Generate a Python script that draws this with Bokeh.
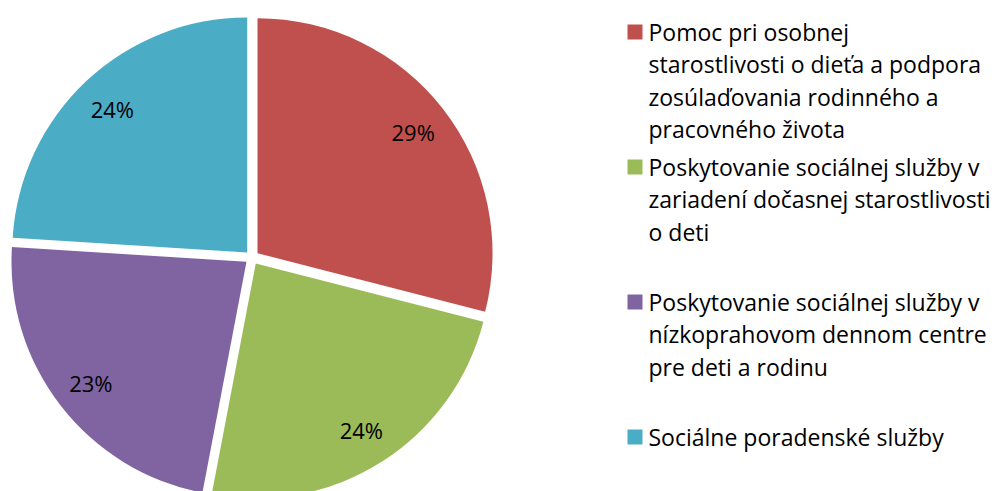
import math
from bokeh.plotting import figure
from bokeh.models import Range1d, ColumnDataSource
from bokeh.core.properties import value
from bokeh.embed import file_html
from bokeh.resources import INLINE

# ---- data ----
categories = [
    "Pomoc pri osobnej starostlivosti o dieťa a podpora zosúlaďovania rodinného a pracovného života",
    "Poskytovanie sociálnej služby v zariadení dočasnej starostlivosti o deti",
    "Poskytovanie sociálnej služby v nízkoprahovom dennom centre pre deti a rodinu",
    "Sociálne poradenské služby",
]
legend_lines = [
    ["Pomoc pri osobnej", "starostlivosti o dieťa a podpora", "zosúlaďovania rodinného a", "pracovného života"],
    ["Poskytovanie sociálnej služby v", "zariadení dočasnej starostlivosti", "o deti"],
    ["Poskytovanie sociálnej služby v", "nízkoprahovom dennom centre", "pre deti a rodinu"],
    ["Sociálne poradenské služby"],
]
shares = [29, 24, 23, 24]
colors = ["#C0504D", "#9BBB59", "#8064A2", "#4BACC6"]

# ---- layout (picture pixel coordinates) ----
W, H = 995, 491
def wy(y):
    return H - y

cx, cy = 251.5, wy(257)
R = 235
EXPLODE = 7
LABEL_R = 204
FONT = "Open Sans"

total = float(sum(shares))
starts, ends, xs, ys, lx, ly, txt = [], [], [], [], [], [], []
cum = 0.0
for v in shares:
    a0 = math.pi / 2 - 2 * math.pi * cum / total
    cum += v
    a1 = math.pi / 2 - 2 * math.pi * cum / total
    mid = (a0 + a1) / 2
    starts.append(a1)
    ends.append(a0)
    xs.append(cx + EXPLODE * math.cos(mid))
    ys.append(cy + EXPLODE * math.sin(mid))
    lx.append(cx + LABEL_R * math.cos(mid))
    ly.append(cy + LABEL_R * math.sin(mid))
    txt.append(f"{round(100 * v / total)}%")

p = figure(width=W, height=H, output_backend="svg", toolbar_location=None,
           x_range=Range1d(0, W), y_range=Range1d(0, H),
           min_border=0)
p.axis.visible = False
p.grid.visible = False
p.outline_line_color = None
p.background_fill_color = "white"

src = ColumnDataSource(dict(x=xs, y=ys, start=starts, end=ends, color=colors, cat=categories))
p.wedge(x="x", y="y", radius=R, start_angle="start", end_angle="end",
        fill_color="color", line_color=None, source=src)

p.text(x=lx, y=ly, text=txt, text_font=value(FONT), text_font_size="22px",
       text_align="center", text_baseline="middle", text_color="black")

# legend
LEG_SQ_X = 634.5
LEG_TX_X = 648
LEG_Y0 = 31.5
LEG_SLOT = 135
LINE_H = 32.3
sq_x, sq_y, tx, ty, tt = [], [], [], [], []
for i, lines in enumerate(legend_lines):
    y0 = LEG_Y0 + i * LEG_SLOT
    sq_x.append(LEG_SQ_X)
    sq_y.append(wy(y0))
    for j, line in enumerate(lines):
        tx.append(LEG_TX_X)
        ty.append(wy(y0 + j * LINE_H))
        tt.append(line)
p.rect(x=sq_x, y=sq_y, width=15, height=15, fill_color=colors, line_color=None)
p.text(x=tx, y=ty, text=tt, text_font=value(FONT), text_font_size="23px",
       text_align="left", text_baseline="middle", text_color="black")

open("out.html", "w").write(file_html(p, INLINE))
